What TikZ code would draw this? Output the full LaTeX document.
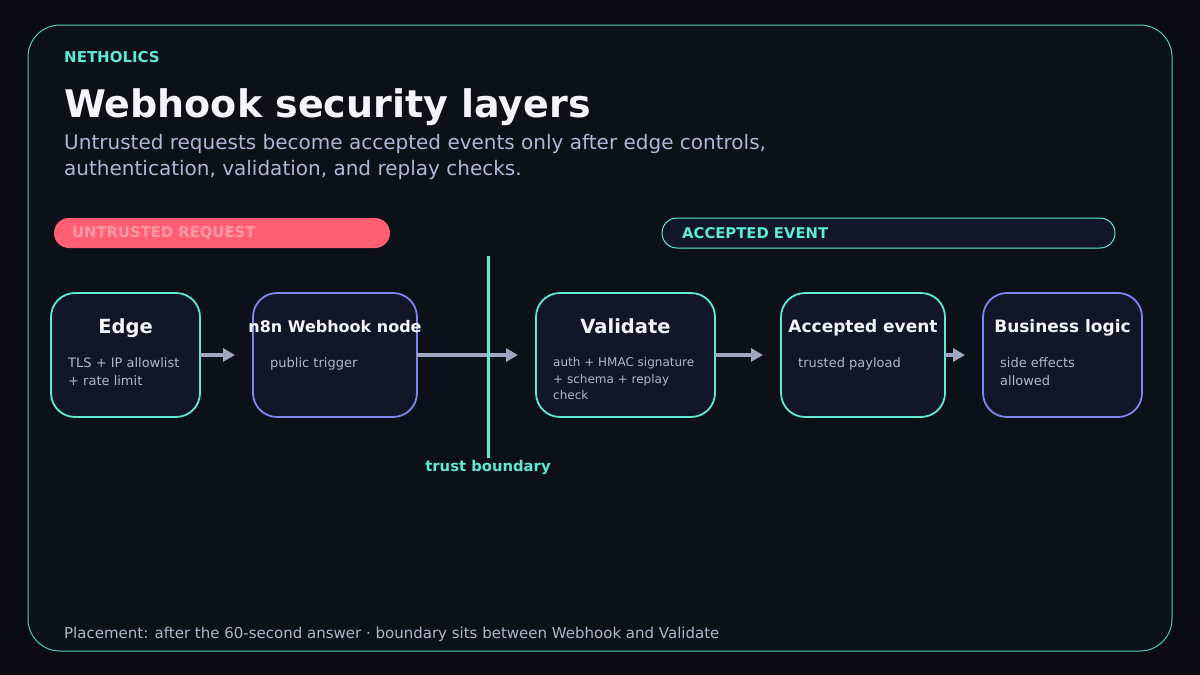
\documentclass[tikz,border=0pt]{standalone}
\usepackage{fontspec}
\setmainfont{DejaVu Sans}
\usepackage{xcolor}
\usepackage{tikz}
\usetikzlibrary{arrows.meta,positioning,calc}

\definecolor{bgdark}{HTML}{080B12}
\definecolor{cardbg}{HTML}{0B1019}
\definecolor{boxbg}{HTML}{111728}
\definecolor{accteal}{HTML}{5EEAD4}
\definecolor{accindigo}{HTML}{7F86F0}
\definecolor{arrowgrey}{HTML}{9EA6C0}
\definecolor{subgrey}{HTML}{AEB6CC}
\definecolor{leadgrey}{HTML}{AEB8D6}
\definecolor{titlewhite}{HTML}{F3F5FA}
\definecolor{pillred}{HTML}{FF5E73}
\definecolor{pilltext}{HTML}{FF9AA8}

\tikzset{
  layerbox/.style={draw,line width=1.8pt,fill=boxbg,rounded corners=24pt,minimum height=124pt,outer sep=0pt,inner sep=0pt},
  trustedbox/.style={layerbox,draw=accteal},
  triggerbox/.style={layerbox,draw=accindigo},
  boxtitle/.style={anchor=base,inner sep=0pt,text=titlewhite,font=\bfseries\fontsize{17}{20}\selectfont},
  bigtitle/.style={boxtitle,font=\bfseries\fontsize{19.5}{22}\selectfont},
  boxnote/.style={anchor=north west,align=left,inner sep=0pt,text=subgrey,font=\fontsize{13}{18}\selectfont},
  pill/.style={rounded corners=15pt,minimum height=30pt,inner sep=0pt,outer sep=0pt,anchor=north west},
  pilllabel/.style={anchor=west,inner sep=0pt,font=\bfseries\fontsize{14.8}{18}\selectfont},
  flow/.style={arrowgrey,line width=4pt,-{Triangle[length=12pt,width=13pt]},shorten >=18pt},
}

\begin{document}
\begin{tikzpicture}[x=1pt,y=-1pt]
  \useasboundingbox[fill=bgdark] (0,0) rectangle (1200,675);
  \draw[accteal!85!cardbg,line width=1pt,fill=cardbg,rounded corners=32pt] (28,25) rectangle (1172,651);

  \node[anchor=base west,inner sep=0pt,text=accteal,font=\bfseries\fontsize{15}{18}\selectfont] (brand)
    at (64,62) {NETHOLICS};
  \node[anchor=base west,inner sep=0pt,text=titlewhite,font=\bfseries\fontsize{38}{44}\selectfont] (headline)
    at (64,117) {Webhook security layers};
  \node[anchor=north west,align=left,inner sep=0pt,text=leadgrey,font=\fontsize{20}{26}\selectfont] (lead)
    at (64,134) {Untrusted requests become accepted events only after edge controls,\\authentication, validation, and replay checks.};

  \node[pill,fill=pillred,minimum width=336pt] (untrusted) at (54,218) {};
  \node[pilllabel,text=pilltext] (untrustedtext) at ($(untrusted.west)+(18,0)$) {UNTRUSTED REQUEST};
  \node[pill,fill=boxbg,draw=accteal,line width=1pt,minimum width=453pt] (accepted) at (662,218) {};
  \node[pilllabel,text=accteal] (acceptedtext) at ($(accepted.west)+(20,0)$) {ACCEPTED EVENT};

  \node[trustedbox,minimum width=149pt,anchor=north west] (edge) at (51,293) {};
  \node[triggerbox,minimum width=164pt,right=53pt of edge] (webhook) {};
  \node[trustedbox,minimum width=179pt,right=119pt of webhook] (validate) {};
  \node[trustedbox,minimum width=164pt,right=66pt of validate] (event) {};
  \node[triggerbox,minimum width=159pt,right=38pt of event] (business) {};

  \node[bigtitle] (edgetitle) at ($(edge.north)+(0,40)$) {Edge};
  \node[boxtitle,font=\bfseries\fontsize{16}{20}\selectfont] (webhooktitle) at ($(webhook.north)+(0,39)$) {n8n Webhook node};
  \node[bigtitle] (validatetitle) at ($(validate.north)+(0,40)$) {Validate};
  \node[boxtitle] (eventtitle) at ($(event.north)+(0,39)$) {Accepted event};
  \node[boxtitle] (businesstitle) at ($(business.north)+(0,39)$) {Business logic};

  \node[boxnote] (edgenote) at ($(edge.north west)+(17,64)$) {TLS + IP allowlist\\+ rate limit};
  \node[boxnote] (webhooknote) at ($(webhook.north west)+(17,64)$) {public trigger};
  \node[boxnote,font=\fontsize{12}{16.8}\selectfont] (validatenote) at ($(validate.north west)+(17,64)$) {auth + HMAC signature\\+ schema + replay\\check};
  \node[boxnote] (eventnote) at ($(event.north west)+(17,64)$) {trusted payload};
  \node[boxnote] (businessnote) at ($(business.north west)+(17,64)$) {side effects\\allowed};

  \draw[flow] (edge.east) -- (webhook.west);
  \draw[flow] (webhook.east) -- (validate.west);
  \draw[flow] (validate.east) -- (event.west);
  \draw[flow] (event.east) -- (business.west);

  \coordinate (boundtop) at (488,256);
  \coordinate (boundbot) at (488,458);
  \draw[accteal,line width=3pt] (boundtop) -- (boundbot);
  \node[anchor=base,inner sep=0pt,text=accteal,font=\bfseries\fontsize{14.8}{18}\selectfont] (boundlabel)
    at ($(boundbot)+(0,13)$) {trust boundary};

  \node[anchor=base west,inner sep=0pt,text=subgrey,font=\fontsize{15}{18}\selectfont] (footer)
    at (64,638) {Placement: after the 60-second answer · boundary sits between Webhook and Validate};
\end{tikzpicture}
\end{document}
